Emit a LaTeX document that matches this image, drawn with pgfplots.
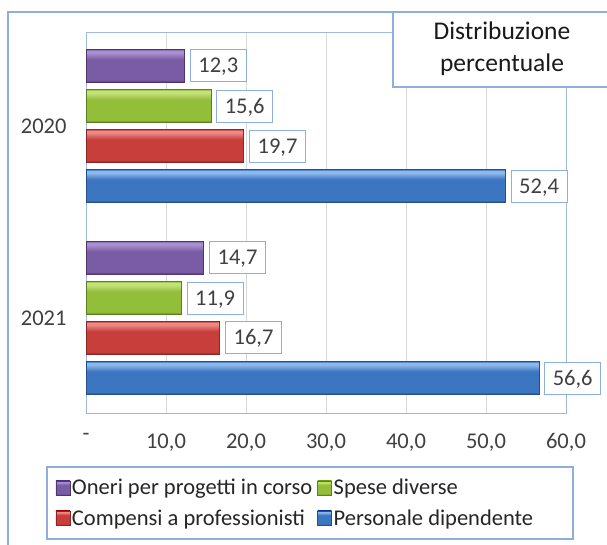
\documentclass[border=0pt]{standalone}
\usepackage{pgfplots}
\pgfplotsset{compat=1.18}
\usepackage{fontspec}
\setmainfont{Carlito}
\definecolor{frameblue}{HTML}{8EAEDB}
\definecolor{axisblue}{HTML}{9DB9DC}
\definecolor{gridgray}{HTML}{D9D9D9}
\definecolor{txtgray}{HTML}{404040}
\definecolor{pmid}{HTML}{7A5BA6}\definecolor{ptop}{HTML}{A990CE}\definecolor{pbot}{HTML}{4E376F}
\definecolor{gmid}{HTML}{93BE3A}\definecolor{gtop}{HTML}{C4E27A}\definecolor{gbot}{HTML}{5F7D22}
\definecolor{rmid}{HTML}{C73E3A}\definecolor{rtop}{HTML}{EC8A86}\definecolor{rbot}{HTML}{8A2725}
\definecolor{bmid}{HTML}{3D76C0}\definecolor{btop}{HTML}{8CB8EC}\definecolor{bbot}{HTML}{24508A}
\pgfdeclareverticalshading{barP}{100bp}{color(0bp)=(pbot); color(25bp)=(pbot); color(29bp)=(pmid); color(60bp)=(pmid); color(70bp)=(ptop); color(73bp)=(ptop); color(75bp)=(pmid); color(100bp)=(pmid)}
\pgfdeclareverticalshading{barG}{100bp}{color(0bp)=(gbot); color(25bp)=(gbot); color(29bp)=(gmid); color(60bp)=(gmid); color(70bp)=(gtop); color(73bp)=(gtop); color(75bp)=(gmid); color(100bp)=(gmid)}
\pgfdeclareverticalshading{barR}{100bp}{color(0bp)=(rbot); color(25bp)=(rbot); color(29bp)=(rmid); color(60bp)=(rmid); color(70bp)=(rtop); color(73bp)=(rtop); color(75bp)=(rmid); color(100bp)=(rmid)}
\pgfdeclareverticalshading{barB}{100bp}{color(0bp)=(bbot); color(25bp)=(bbot); color(29bp)=(bmid); color(60bp)=(bmid); color(70bp)=(btop); color(73bp)=(btop); color(75bp)=(bmid); color(100bp)=(bmid)}
\pgfplotsset{
  sP/.style={bar shift=-0.313, draw=pbot, line width=0.4pt, shading=barP},
  sG/.style={bar shift=-0.104, draw=gbot, line width=0.4pt, shading=barG},
  sR/.style={bar shift=0.104, draw=rbot, line width=0.4pt, shading=barR},
  sB/.style={bar shift=0.313, draw=bbot, line width=0.4pt, shading=barB},
}
\begin{document}
\begin{tikzpicture}
\clip (0pt,0pt) rectangle (607pt,-545pt);
\fill[white] (0pt,0pt) rectangle (607pt,-545pt);
\draw[frameblue, line width=1.3pt] (8pt,-560pt) -- (8pt,-12pt) -- (620pt,-12pt);
\begin{axis}[
  at={(86pt,-413pt)}, anchor=south west,
  scale only axis, width=480pt, height=381pt,
  xbar,
  xmin=0, xmax=60, ymin=-0.49, ymax=1.495, y dir=reverse,
  bar width=0.172,
  axis line style={axisblue, line width=1pt},
  xmajorgrids, major grid style={gridgray, line width=0.9pt},
  major tick length=0pt,
  xtick={0,10,20,30,40,50,60},
  xticklabels={-,{10,0},{20,0},{30,0},{40,0},{50,0},{60,0}},
  ytick={0,1}, yticklabels={2020,2021},
  tick label style={font=\fontsize{22.5}{27}\selectfont, text=txtgray},
  xticklabel style={yshift=-17pt},
  yticklabel style={xshift=-16pt},
  point meta=x,
  nodes near coords={\pgfmathprintnumber[fixed,fixed zerofill,precision=1,use comma,assume math mode=true]{\pgfplotspointmeta}},
  nodes near coords style={draw=frameblue, line width=1pt, fill=white, anchor=west, xshift=5.5pt,
    font=\fontsize{22.5}{27}\selectfont, text=txtgray, inner xsep=8pt, inner ysep=9pt, text height=14pt, text depth=0pt},
  legend columns=2,
  legend style={draw=none, fill=none, at={(axis description cs:-0.07,-0.163)}, anchor=north west,
    font=\fontsize{22.5}{27}\selectfont, text=black!85, row sep=9pt,
    nodes={inner sep=2pt},
    /tikz/every even column/.append style={column sep=3pt}},
  legend image code/.code={\draw[#1] (0pt,-7pt) rectangle (14pt,7pt);},
  legend cell align=left,
]
\addplot[sP] coordinates {(12.3,0)};
\addplot[sG] coordinates {(15.6,0)};
\addplot[sR] coordinates {(19.7,0)};
\addplot[sB] coordinates {(52.4,0)};
\addplot[sP, forget plot] coordinates {(14.7,1)};
\addplot[sG, forget plot] coordinates {(11.9,1)};
\addplot[sR, forget plot] coordinates {(16.7,1)};
\addplot[sB, forget plot] coordinates {(56.6,1)};
\legend{Oneri per progetti in corso, Spese diverse, Compensi a professionisti, Personale dipendente}
\end{axis}
\draw[frameblue, line width=1.2pt] (47pt,-467pt) rectangle (573pt,-539pt);
\draw[frameblue, line width=1.3pt, fill=white] (393pt,-12pt) rectangle (620pt,-87pt);
\node[align=center, font=\fontsize{25.5}{32}\selectfont, text=black!90] at (502pt,-49pt) {Distribuzione\\percentuale};
\end{tikzpicture}
\end{document}
